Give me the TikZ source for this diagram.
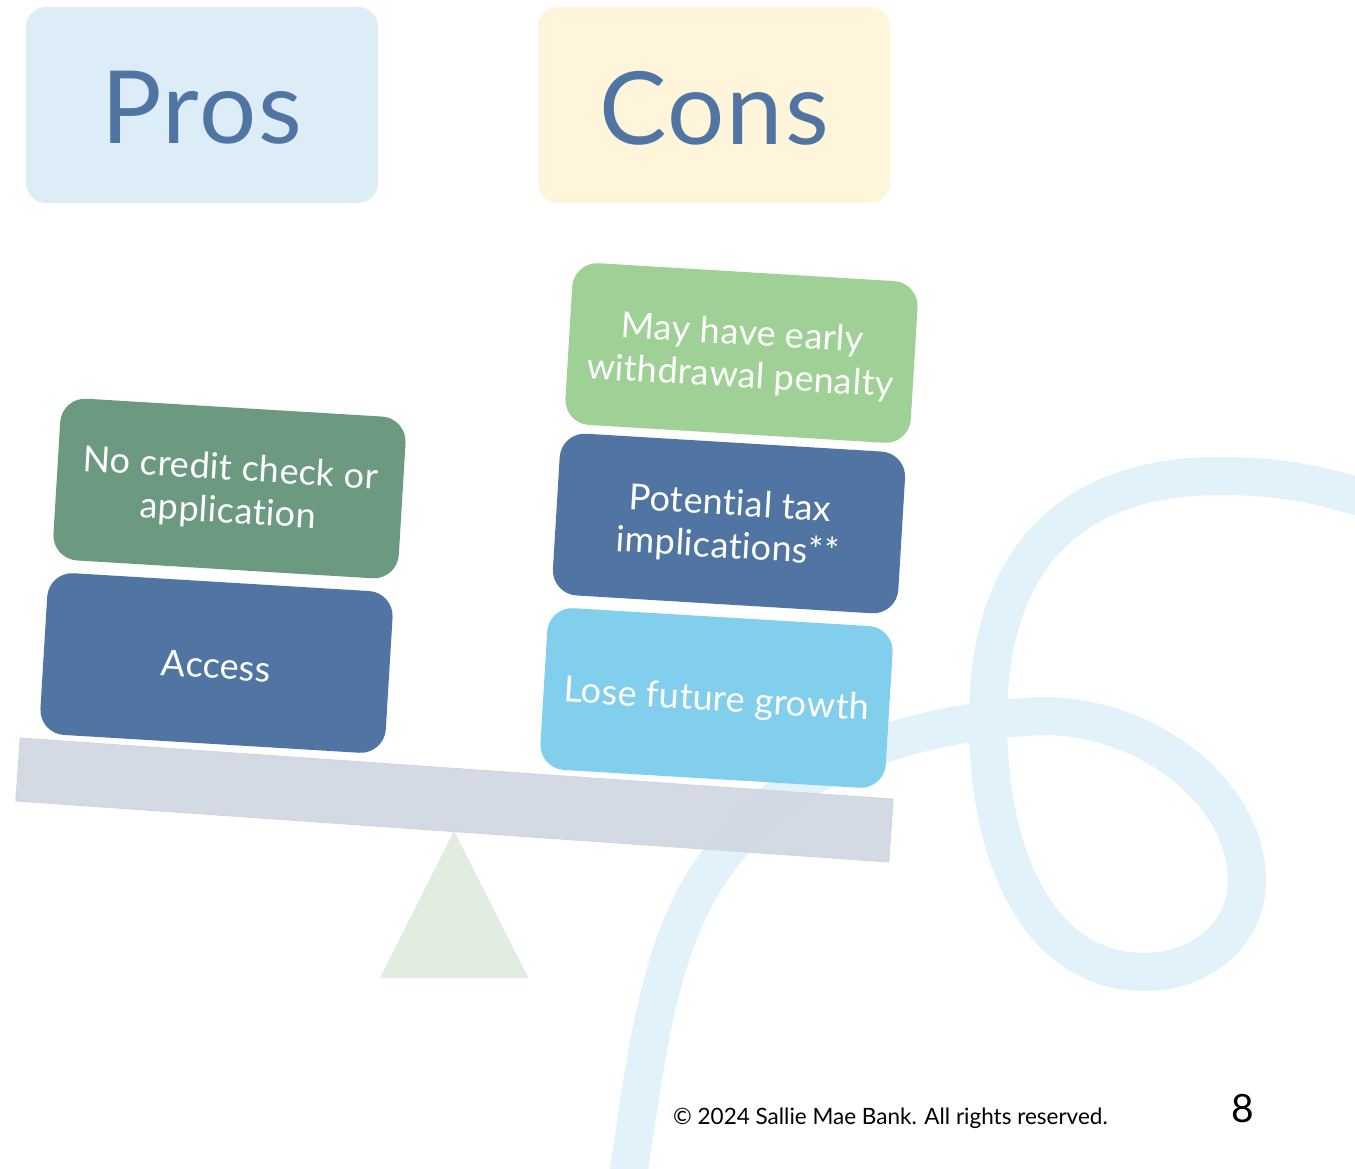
\documentclass[tikz,border=0pt]{standalone}
\usepackage{fontspec}
\setmainfont{Lato}[Ligatures=NoCommon,LetterSpace=1.0]
\newfontfamily\headfont{Lato}[Ligatures=NoCommon,LetterSpace=2.0]
\newfontfamily\footfont{Lato}[Ligatures=NoCommon]
\definecolor{swoosh}{HTML}{E1F2FB}
\definecolor{navy}{HTML}{5175A2}
\definecolor{sage}{HTML}{6C9A80}
\definecolor{leaf}{HTML}{9FD196}
\definecolor{sky}{HTML}{82CEED}
\definecolor{prosbg}{HTML}{DCEDF7}
\definecolor{consbg}{HTML}{FFF5DB}
\definecolor{beamc}{HTML}{CFD6E1}
\definecolor{beamedge}{HTML}{D0D7E3}
\definecolor{fulcrum}{HTML}{E2EDE1}
\newcommand{\headdrop}[1]{\raisebox{-3pt}[\height][\depth]{#1}}
\newcommand{\blockdrop}[1]{\raisebox{-3pt}[\height][\depth]{#1}}
\tikzset{
  header/.style={rounded corners=20pt,minimum width=352pt,minimum height=196pt,inner sep=0pt,text=navy,font=\headfont\fontsize{101}{101}\selectfont},
  block/.style={rounded corners=25pt,minimum width=346pt,minimum height=162pt,inner sep=0pt,rotate=-3.45,text=white,align=center,font=\fontsize{36}{43}\selectfont}
}
\begin{document}
\begin{tikzpicture}[x=1pt,y=-1pt]
\useasboundingbox (0,0) rectangle (1355,1169);
\fill[white] (0,0) rectangle (1355,1169);
\draw[swoosh,line width=38pt] (628,1175) .. controls (645,1070) and (655,960) .. (705,880)
  .. controls (755,800) and (850,725) .. (1043,716)
  .. controls (1150,716) and (1247,795) .. (1247,880)
  .. controls (1247,935) and (1200,972) .. (1145,972)
  .. controls (1040,972) and (988,860) .. (988,720)
  .. controls (988,570) and (1060,476) .. (1220,476)
  .. controls (1280,476) and (1320,485) .. (1360,497);
\node[header,fill=prosbg] (pros) at (202,105) {\headdrop{Pros}};
\node[header,fill=consbg] (cons) at (714,105) {\headdrop{Cons}};
\fill[fulcrum] (454,831) -- (528.5,978) -- (380,978) -- cycle;
\node[block,fill=navy] (access) at (216.5,663) {\blockdrop{Access}};
\node[block,fill=sage] (credit) at (229.5,488.5) {\blockdrop{No credit check or}\\\blockdrop{application}};
\node[block,fill=sky] (growth) at (716.5,698) {\blockdrop{Lose future growth}};
\node[block,fill=navy] (tax) at (729,523.5) {\blockdrop{Potential tax}\\\blockdrop{implications**}};
\node[block,fill=leaf] (penalty) at (741.5,353) {\blockdrop{May have early}\\\blockdrop{withdrawal penalty}};
\node[fill=beamc,fill opacity=.88,draw=beamedge,line width=1pt,minimum width=875pt,minimum height=63pt,inner sep=0pt,rotate=-4] (beam) at (454.5,800) {};
\node[inner sep=0pt,font=\footfont\fontsize{22.5}{26}\selectfont,anchor=west] (foot) at (673,1118.5) {© 2024 Sallie Mae Bank. All rights reserved.};
\node[inner sep=0pt,font=\footfont\fontsize{39}{42}\selectfont] (page) at (1243,1109) {8};
\end{tikzpicture}
\end{document}
